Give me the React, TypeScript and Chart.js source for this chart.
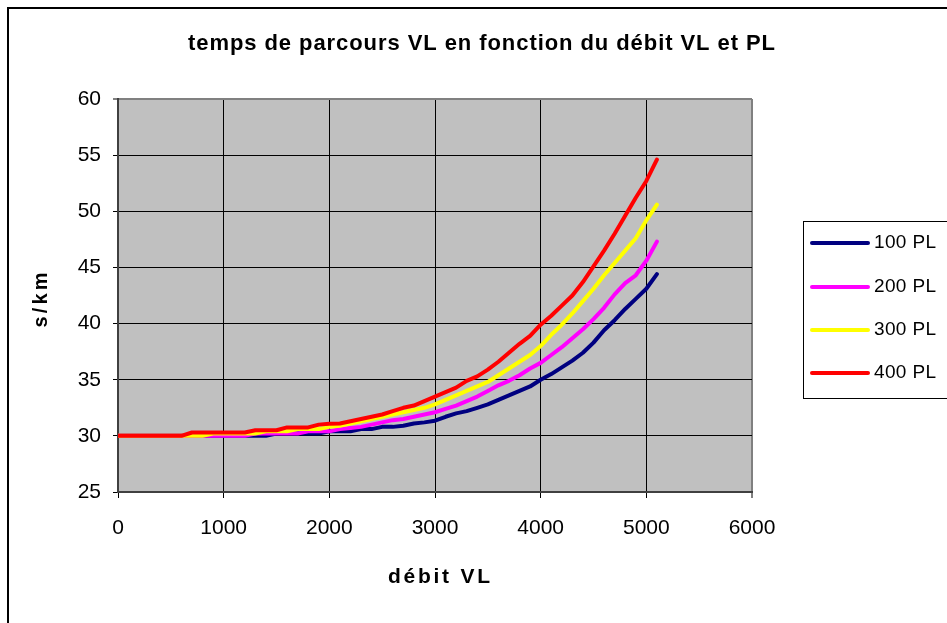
import { useEffect, useRef } from "react";
import { Chart, registerables } from "chart.js";

Chart.register(...registerables);

const debitVL = [
  0, 100, 200, 300, 400, 500, 600, 700, 800, 900, 1000, 1100, 1200, 1300, 1400, 1500, 1600, 1700, 1800, 1900,
  2000, 2100, 2200, 2300, 2400, 2500, 2600, 2700, 2800, 2900, 3000, 3100, 3200, 3300, 3400, 3500, 3600, 3700,
  3800, 3900, 4000, 4100, 4200, 4300, 4400, 4500, 4600, 4700, 4800, 4900, 5000, 5100,
];

const pl100 = [
  30, 30, 30, 30, 30, 30, 30, 30, 30, 30, 30, 30, 30, 30, 30, 30.2, 30.2, 30.2, 30.2, 30.2,
  30.4, 30.4, 30.4, 30.6, 30.6, 30.8, 30.8, 30.9, 31.1, 31.2, 31.35, 31.7, 32.0, 32.2, 32.5, 32.8, 33.2, 33.6,
  34.0, 34.4, 35.0, 35.5, 36.1, 36.7, 37.4, 38.3, 39.4, 40.3, 41.3, 42.2, 43.1, 44.4,
];

const pl200 = [
  30, 30, 30, 30, 30, 30, 30, 30, 30, 30, 30, 30, 30, 30.2, 30.2, 30.2, 30.2, 30.2, 30.4, 30.4,
  30.4, 30.6, 30.7, 30.8, 31.0, 31.2, 31.4, 31.5, 31.7, 31.9, 32.1, 32.4, 32.7, 33.1, 33.5, 34.0, 34.5, 34.9,
  35.4, 36.0, 36.5, 37.2, 37.9, 38.7, 39.5, 40.4, 41.4, 42.6, 43.6, 44.3, 45.6, 47.3,
];

const pl300 = [
  30, 30, 30, 30, 30, 30, 30, 30, 30, 30.2, 30.2, 30.2, 30.2, 30.2, 30.4, 30.4, 30.4, 30.6, 30.6, 30.6,
  30.8, 30.9, 31.1, 31.3, 31.5, 31.7, 31.9, 32.1, 32.3, 32.5, 32.8, 33.2, 33.6, 34.0, 34.4, 34.8, 35.4, 36.0,
  36.6, 37.2, 38.0, 39.0, 39.9, 40.9, 42.0, 43.1, 44.3, 45.4, 46.5, 47.6, 49.2, 50.6,
];

const pl400 = [
  30, 30, 30, 30, 30, 30, 30, 30.3, 30.3, 30.3, 30.3, 30.3, 30.3, 30.5, 30.5, 30.5, 30.75, 30.75, 30.75, 31.0,
  31.07, 31.1, 31.3, 31.5, 31.7, 31.9, 32.2, 32.5, 32.7, 33.1, 33.5, 33.9, 34.3, 34.9, 35.3, 35.9, 36.6, 37.4,
  38.2, 38.9, 39.9, 40.7, 41.6, 42.5, 43.7, 45.1, 46.5, 48.0, 49.6, 51.2, 52.7, 54.6,
];

const seriesLabels = ["100 PL", "200 PL", "300 PL", "400 PL"];
const seriesValues = [pl100, pl200, pl300, pl400];
const seriesColors = ["#000080", "#FF00FF", "#FFFF00", "#FF0000"];

const titleText = "temps de parcours VL en fonction du débit VL et PL";
const xTitle = "débit VL";
const yTitle = "s/km";

const FONT = "'Liberation Sans', Arial, sans-serif";

function spacedText(
  ctx: CanvasRenderingContext2D,
  text: string,
  font: string,
  target: number,
  x: number,
  y: number,
  centered: boolean
) {
  ctx.font = font;
  (ctx as any).letterSpacing = "0px";
  const w0 = ctx.measureText(text).width;
  const ls = Math.max(0, (target - w0) / (text.length - 1));
  (ctx as any).letterSpacing = ls + "px";
  const w = w0 + ls * (text.length - 1);
  ctx.textAlign = "left";
  ctx.fillText(text, centered ? x - w / 2 : x, y);
  (ctx as any).letterSpacing = "0px";
}

const decorPlugin = {
  id: "decor",
  beforeDraw(chart: any) {
    const { ctx, chartArea, width, height } = chart;
    ctx.save();
    ctx.fillStyle = "#FFFFFF";
    ctx.fillRect(0, 0, width, height);
    ctx.fillStyle = "#C0C0C0";
    ctx.fillRect(chartArea.left, chartArea.top, chartArea.right - chartArea.left, chartArea.bottom - chartArea.top);
    ctx.restore();
  },
  afterDraw(chart: any) {
    const { ctx, width, height } = chart;
    ctx.save();
    ctx.fillStyle = "#000";
    ctx.fillRect(7, 7, 2, height - 7);
    ctx.fillRect(7, 7, width - 7, 2);

    ctx.fillStyle = "#000";
    ctx.textBaseline = "alphabetic";
    spacedText(ctx, titleText, "bold 22px " + FONT, 587, 481.5, 50, true);
    spacedText(ctx, xTitle, "bold 21px " + FONT, 102, 439, 583, true);
    ctx.save();
    ctx.translate(47, 300);
    ctx.rotate(-Math.PI / 2);
    spacedText(ctx, yTitle, "bold 20px " + FONT, 55, 0, 0, true);
    ctx.restore();

    ctx.strokeStyle = "#000";
    ctx.lineWidth = 1;
    ctx.strokeRect(803.5, 221.5, 200, 177);
    const ys = [243, 287, 330, 373];
    seriesLabels.forEach((lab, i) => {
      ctx.strokeStyle = seriesColors[i];
      ctx.lineWidth = 4;
      ctx.lineCap = "round";
      ctx.beginPath();
      ctx.moveTo(812, ys[i]);
      ctx.lineTo(868, ys[i]);
      ctx.stroke();
      ctx.fillStyle = "#000";
      ctx.textBaseline = "middle";
      spacedText(ctx, lab, "19px " + FONT, 62, 874, ys[i], false);
    });
    ctx.restore();
  },
};

export default function App() {
  const ref = useRef<HTMLCanvasElement | null>(null);

  useEffect(() => {
    if (!ref.current) return;
    const chart = new Chart(ref.current, {
      type: "line",
      data: {
        datasets: seriesLabels.map((label, i) => ({
          label,
          data: debitVL.map((x, j) => ({ x, y: seriesValues[i][j] })),
          borderColor: seriesColors[i],
          backgroundColor: seriesColors[i],
          borderWidth: 4,
          pointRadius: 0,
          tension: 0,
          borderCapStyle: "round" as const,
          borderJoinStyle: "round" as const,
          order: 4 - i,
        })),
      },
      options: {
        animation: false,
        responsive: false,
        devicePixelRatio: 1,
        layout: { padding: { top: 99, right: 195, bottom: 0, left: 0 } },
        plugins: {
          legend: { display: false },
          title: { display: false },
          tooltip: { enabled: false },
        },
        scales: {
          x: {
            type: "linear",
            min: 0,
            max: 6000,
            afterFit: (s: any) => {
              s.height = 131;
            },
            ticks: {
              stepSize: 1000,
              color: "#000",
              font: { family: FONT, size: 21 },
              padding: 18,
              maxRotation: 0,
              callback: (v: any) => String(v),
            },
            grid: {
              color: (c: any) => (c.tick && c.tick.value === 6000 ? "#808080" : "#000"),
              lineWidth: (c: any) => (c.tick && c.tick.value === 6000 ? 2 : 1),
              tickColor: "#000",
              tickLength: 6,
              tickWidth: 1,
            },
            border: { color: "#404040", width: 2 },
          },
          y: {
            type: "linear",
            min: 25,
            max: 60,
            afterFit: (s: any) => {
              s.width = 118;
            },
            ticks: {
              stepSize: 5,
              color: "#000",
              font: { family: FONT, size: 21 },
              padding: 12,
              callback: (v: any) => String(v),
            },
            grid: {
              color: (c: any) => (c.tick && c.tick.value === 60 ? "#808080" : "#000"),
              lineWidth: (c: any) => (c.tick && c.tick.value === 60 ? 2 : 1),
              tickColor: "#000",
              tickLength: 5,
              tickWidth: 1,
            },
            border: { color: "#404040", width: 2 },
          },
        },
      },
      plugins: [decorPlugin],
    });
    return () => chart.destroy();
  }, []);

  return (
    <div style={{ position: "fixed", left: 0, top: 0, width: 947, height: 623 }}>
      <canvas ref={ref} width={947} height={623} style={{ display: "block" }} />
    </div>
  );
}
